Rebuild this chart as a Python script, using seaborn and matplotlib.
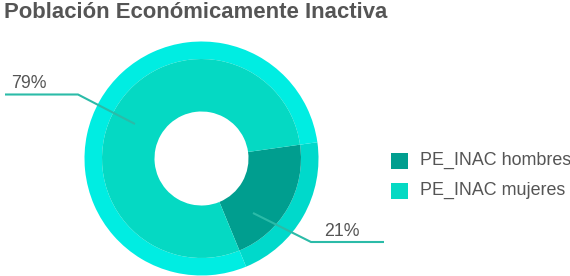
import matplotlib
matplotlib.use("Agg")
import matplotlib.pyplot as plt
import seaborn as sns
from matplotlib.patches import Rectangle

# ---- data ----
categories = ["PE_INAC hombres", "PE_INAC mujeres"]
values = [21, 79]
labels = ["21%", "79%"]
title = "Población Económicamente Inactiva"

# ---- style ----
inner_colors = ["#009E8F", "#05D9C3"]
outer_colors = ["#00D9CB", "#00EDE2"]
text_color = "#555555"
line_color = "#2BBBA8"

sns.set_theme(style="white")
plt.rcParams["font.family"] = ["Liberation Sans", "DejaVu Sans"]

W, H = 570, 276
fig = plt.figure(figsize=(W / 100, H / 100), dpi=100)
ax = fig.add_axes([0, 0, 1, 1])

def Y(y):
    return H - y

cx, cy = 201.5, Y(158.5)
r_out, r_mid, r_in = 117, 99.5, 47

ax.pie(values, colors=outer_colors, startangle=8, counterclock=False,
       radius=r_out, center=(cx, cy),
       wedgeprops=dict(width=r_out - r_mid, linewidth=0))
ax.pie(values, colors=inner_colors, startangle=8, counterclock=False,
       radius=r_mid, center=(cx, cy),
       wedgeprops=dict(width=r_mid - r_in, linewidth=0))

ax.set_xlim(0, W)
ax.set_ylim(0, H)
ax.set_aspect("equal")
ax.axis("off")

# connector lines and labels
ax.plot([135, 78, 5], [Y(124), Y(94.5), Y(94.5)], color=line_color, lw=1.5,
        solid_capstyle="butt", zorder=5)
ax.text(11, Y(83), labels[1], fontsize=12.8, color=text_color,
        ha="left", va="center")
ax.plot([253, 311, 384], [Y(213), Y(242), Y(242)], color=line_color, lw=1.5,
        solid_capstyle="butt", zorder=5)
ax.text(324, Y(232), labels[0], fontsize=12.8, color=text_color,
        ha="left", va="center")

# title
fig.text(4 / W, 1 - 13 / H, title, fontsize=15.9, fontweight="bold",
         color=text_color, ha="left", va="center")

# legend
for i, (cat, col) in enumerate(zip(categories, inner_colors)):
    y0 = 153 + i * 30
    ax.add_patch(Rectangle((391, Y(y0 + 16)), 17, 16, facecolor=col,
                           edgecolor="none"))
    ax.text(420, Y(y0 + 7.5), cat, fontsize=12.9, color=text_color,
            ha="left", va="center")

fig.savefig("out.png", dpi=100)
